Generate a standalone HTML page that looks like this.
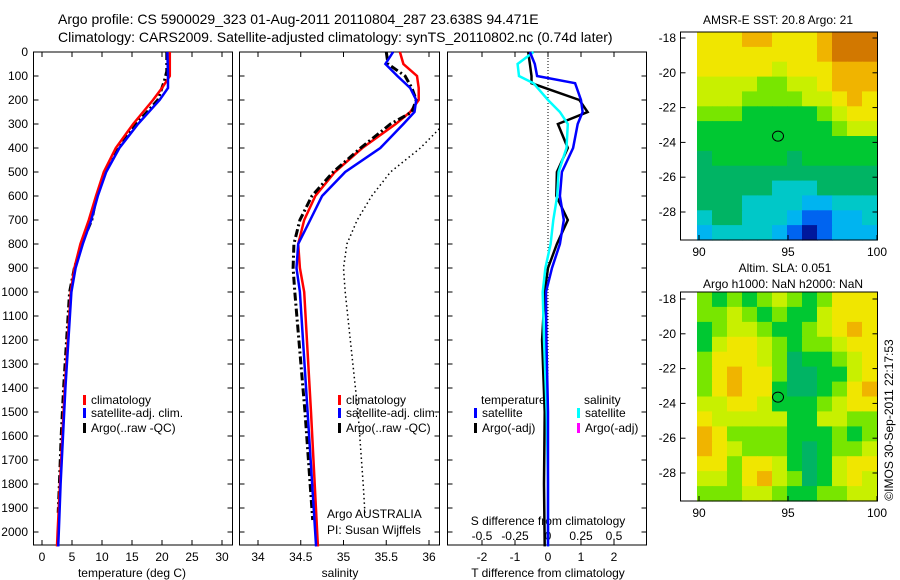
<!DOCTYPE html>
<html><head><meta charset="utf-8"><style>
body{margin:0;background:#fff;}
svg{display:block;font-family:"Liberation Sans",sans-serif;}
text{font-size:12px;fill:#000;}
</style></head><body>
<svg id="fig" width="900" height="580" viewBox="0 0 900 580" xmlns="http://www.w3.org/2000/svg">
<text x="58" y="24" style="font-size:14px">Argo profile: CS 5900029_323 01-Aug-2011 20110804_287 23.638S 94.471E</text>
<text x="58" y="42" style="font-size:14px">Climatology: CARS2009. Satellite-adjusted climatology: synTS_20110802.nc (0.74d later)</text>
<g id="g"></g>
</svg>
<script>
// ---- data ----
const tDepthClim=[0,100,150,200,300,400,500,600,700,800,900,1000,1200,1400,1600,1800,2000,2060];
const tempClim=[21.3,21.3,20.0,18.5,15.2,12.3,10.3,9.0,7.8,6.4,5.4,4.8,4.3,3.8,3.4,3.0,2.6,2.5];
const tempSat=[20.9,21.0,21.0,19.6,16.0,12.9,10.7,9.3,8.2,6.8,5.6,4.9,4.4,3.9,3.5,3.1,2.8,2.7];
const argoDepth=[0,80,120,200,300,400,500,600,700,800,900,1000,1200,1400,1600,1800,1920];
const tempArgo=[20.8,20.8,20.4,19.3,15.7,12.8,10.5,9.1,8.3,6.6,5.4,4.6,4.1,3.6,3.2,2.9,2.7];
const sDepth=[0,50,100,150,200,250,300,400,500,600,700,800,900,1000,1500,2060];
const salClim=[35.66,35.70,35.86,35.88,35.88,35.78,35.61,35.22,34.90,34.67,34.54,34.47,34.49,34.54,34.62,34.70];
const salSat=[35.58,35.49,35.63,35.78,35.85,35.83,35.70,35.43,35.02,34.75,34.61,34.47,34.45,34.49,34.58,34.68];
const argoSDepth=[0,50,100,150,200,250,300,400,500,600,700,800,900,1000,1500,1950];
const salArgo=[35.50,35.52,35.72,35.80,35.85,35.80,35.55,35.20,34.88,34.63,34.49,34.42,34.41,34.43,34.55,34.64];
const dotDepth=[320,400,500,600,700,800,900,1000,1200,1500,1800,1920];
const salDot=[36.12,35.90,35.55,35.33,35.16,35.04,35.00,35.02,35.08,35.17,35.23,35.25];
const dDepth=[0,50,100,130,200,250,300,400,500,600,700,800,900,1000,1200,1500,1800,2060];
const dTsat=[-0.55,-0.4,-0.33,0.82,1.0,1.05,0.9,0.76,0.42,0.36,0.48,0.36,0.12,-0.06,-0.05,0.0,0.0,0.0];
const dTargo=[-0.6,-0.55,-0.5,-0.5,0.95,1.2,0.3,0.6,0.27,0.25,0.6,0.27,0.0,-0.1,-0.18,-0.1,-0.12,-0.1];
const dSsat=[-0.11,-0.23,-0.22,-0.11,0.0,0.09,0.15,0.14,0.08,0.07,0.04,0.02,-0.02,-0.04,-0.03,-0.01,0.0,0.0];
const depthTicks=[0,100,200,300,400,500,600,700,800,900,1000,1100,1200,1300,1400,1500,1600,1700,1800,1900,2000];
const tempTicks=[0,5,10,15,20,25,30];
const salTicks=[34,34.5,35,35.5,36];
const dtTicks=[-2,-1,0,1,2];
const dsTicks=[-0.5,-0.25,0,0.25,0.5];
const latTicks=[-18,-20,-22,-24,-26,-28];
const lonTicks=[90,95,100];
const sstGrid=["888998889AAA","888888889AAA","888887888999","777766778999","777666677898","666555556788","555555555677","555555555555","455555455555","444444444444","444443334444","444333322333","344333211223","233332101222"];
const slaGrid=["656567656888","667656557888","567765567898","578876566788","688876455678","689886445578","689885445689","778875556788","877777557766","986666555656","987666545667","886887545788","776897645787","666776556677"];
const mapColors={"0":"#00189c","1":"#0064f0","2":"#00b4f0","3":"#00c8c8","4":"#00b464","5":"#00c832","6":"#78e600","7":"#c8f000","8":"#f0e600","9":"#f0b400","A":"#d27800"};
// ---- helpers ----
const NS="http://www.w3.org/2000/svg";const G=document.getElementById('g');
function mk(t,a,p){const e=document.createElementNS(NS,t);for(const k in a)e.setAttribute(k,a[k]);(p||G).appendChild(e);return e;}
const yD=d=>52+d*0.24;
function line(xs,ds,fx,st,name){const pts=xs.map((v,i)=>fx(v).toFixed(1)+','+yD(ds[i]).toFixed(1)).join(' ');const e=mk('polyline',Object.assign({points:pts,fill:'none'},st));}
function txt(x,y,s,anchor,name,extra){const e=mk('text',Object.assign({x:x,y:y,'text-anchor':anchor||'start'},extra||{}));e.textContent=s;return e;}
function box(x0,x1,y0,y1,name){const e=mk('rect',{x:x0,y:y0,width:x1-x0,height:y1-y0,fill:'none',stroke:'#000','stroke-width':1});}
function tk(x1,y1,x2,y2){const e=mk('line',{x1:x1,y1:y1,x2:x2,y2:y2,stroke:'#000'});}
const Y0=52,YB=545;
const xT=v=>42+v*6, xS=v=>258+(v-34)*85.5, xDT=v=>548+v*33, xDS=v=>548+v*132;
box(33.5,232.5,Y0,YB,'temperature-axes');box(239.5,439.5,Y0,YB,'salinity-axes');box(447.5,646.5,Y0,YB,'difference-axes');
depthTicks.forEach(d=>{const y=yD(d);txt(28,y+4,String(d),'end','depth-tick-label');[[33.5,1],[232.5,-1],[239.5,1],[439.5,-1],[447.5,1],[646.5,-1]].forEach(([x,s])=>tk(x,y,x+5*s,y));});
tempTicks.forEach(v=>{const x=xT(v);tk(x,YB,x,YB-5);tk(x,Y0,x,Y0+5);txt(x,561,String(v),'middle','temp-tick-label');});
salTicks.forEach(v=>{const x=xS(v);tk(x,YB,x,YB-5);tk(x,Y0,x,Y0+5);txt(x,561,String(v),'middle','salinity-tick-label');});
dtTicks.forEach(v=>{const x=xDT(v);tk(x,YB,x,YB-5);tk(x,Y0,x,Y0+5);txt(x,561,String(v),'middle','tdiff-tick-label');});
dsTicks.forEach(v=>{const x=xDS(v);txt(x,540,String(v),'middle','sdiff-tick-label');});
txt(132,577,'temperature (deg C)','middle','temperature-x-title');
txt(340,577,'salinity','middle','salinity-x-title');
txt(548,577,'T difference from climatology','middle','tdiff-x-title');
txt(548,525,'S difference from climatology','middle','sdiff-title');
line(tempArgo,argoDepth,xT,{stroke:'#000','stroke-width':3,'stroke-dasharray':'8,3,2,3'},'temp-argo-line');
line(tempClim,tDepthClim,xT,{stroke:'#f00','stroke-width':2.5},'temp-clim-line');
line(tempSat,tDepthClim,xT,{stroke:'#00f','stroke-width':2.5},'temp-sat-line');
line(salDot,dotDepth,xS,{stroke:'#000','stroke-width':1.5,'stroke-dasharray':'1.5,3'},'salinity-dotted-line');
line(salClim,sDepth,xS,{stroke:'#f00','stroke-width':2.5},'salinity-clim-line');
line(salArgo,argoSDepth,xS,{stroke:'#000','stroke-width':3,'stroke-dasharray':'8,3,2,3'},'salinity-argo-line');
line(salSat,sDepth,xS,{stroke:'#00f','stroke-width':2.5},'salinity-sat-line');
mk('line',{x1:548,y1:Y0,x2:548,y2:YB,stroke:'#000','stroke-dasharray':'1,2'});
line(dTargo,dDepth.slice(0,dTargo.length),xDT,{stroke:'#000','stroke-width':2.5},'tdiff-argo-line');
line(dSsat,dDepth,xDS,{stroke:'#0ff','stroke-width':2.5},'sdiff-sat-line');
line(dTsat,dDepth,xDT,{stroke:'#00f','stroke-width':2.5},'tdiff-sat-line');
function leg(x,y,c,s,name){const e=mk('rect',{x:x,y:y-9,width:3,height:10,fill:c});txt(x+8,y,s,'start',name);}
leg(83,404,'#f00','climatology','legend-climatology');leg(83,417,'#00f','satellite-adj. clim.','legend-satellite');leg(83,432,'#000','Argo(..raw -QC)','legend-argo');
leg(338,404,'#f00','climatology','legend2-climatology');leg(338,417,'#00f','satellite-adj. clim.','legend2-satellite');leg(338,432,'#000','Argo(..raw -QC)','legend2-argo');
txt(481,404,'temperature','start','legend3-temperature-header');txt(584,404,'salinity','start','legend3-salinity-header');
leg(474,417,'#00f','satellite','legend3-temp-sat');leg(474,432,'#000','Argo(-adj)','legend3-temp-argo');
leg(577,417,'#0ff','satellite','legend3-sal-sat');leg(577,432,'#f0f','Argo(-adj)','legend3-sal-argo');
txt(327,518,'Argo AUSTRALIA','start','argo-agency');txt(327,534,'PI: Susan Wijffels','start','argo-pi');
function drawMap(grid,y0,y1,latY0,name){
 const x0=697,x1=877,rows=grid.length,cols=grid[0].length,cw=(x1-x0)/cols,ch=(y1-y0)/rows;
 grid.forEach((r,i)=>{for(let j=0;j<cols;j++){const e=mk('rect',{x:(x0+j*cw).toFixed(1),y:(y0+i*ch).toFixed(1),width:(cw+0.6).toFixed(1),height:(ch+0.6).toFixed(1),fill:mapColors[r[j]]});}});
 box(680.5,877.5,y0,y1,name+'-axes');
 latTicks.forEach(l=>{const y=latY0+(-18-l)*17.4;tk(680.5,y,685.5,y);tk(877.5,y,872.5,y);txt(676,y+4,String(l),'end',name+'-lat-label');});
 lonTicks.forEach(l=>{const x=699+(l-90)*17.8;tk(x,y1,x,y1-5);txt(x,y1+16,String(l),'middle',name+'-lon-label');});
 const c=mk('ellipse',{cx:778,cy:latY0+(-18+23.638)*17.4,rx:5.5,ry:5,fill:'none',stroke:'#000'});
}
drawMap(sstGrid,32,240,38,'sst-map');
drawMap(slaGrid,292,501,299,'sla-map');
txt(778,24,'AMSR-E SST: 20.8 Argo: 21','middle','sst-map-title');
txt(785,272,'Altim. SLA: 0.051','middle','sla-map-title-1');
txt(783,288,'Argo h1000: NaN h2000: NaN','middle','sla-map-title-2');
txt(0,0,'©IMOS 30-Sep-2011 22:17:53','middle','copyright',{transform:'translate(893,420) rotate(-90)'});
</script>
</body></html>
